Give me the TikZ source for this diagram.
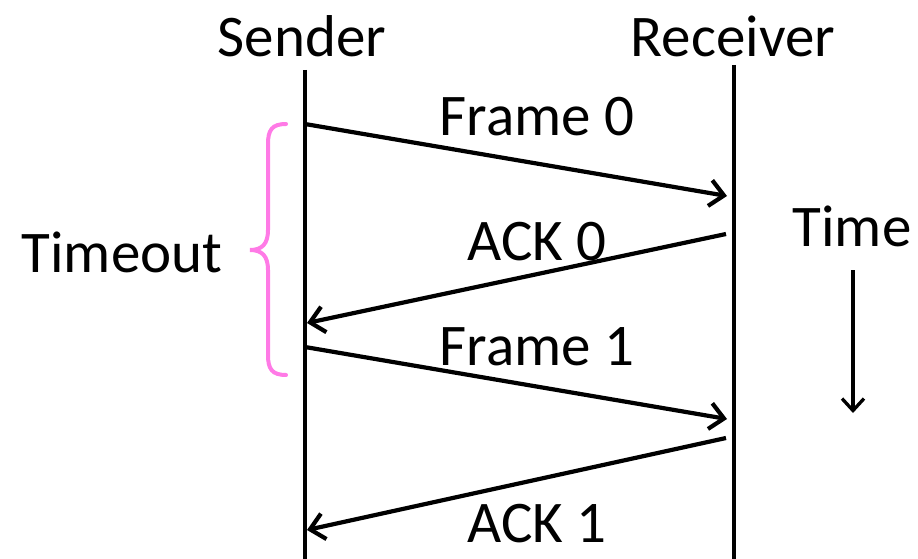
\documentclass[tikz,border=0pt]{standalone}
\usepackage{fontspec}
\setmainfont{Carlito}
\usetikzlibrary{arrows.meta}
\definecolor{bracepink}{RGB}{255,122,230}
\begin{document}
\begin{tikzpicture}[x=1pt,y=-1pt,
  lbl/.style={font=\fontsize{59}{70}\selectfont, inner sep=0pt, anchor=center},
  life/.style={line width=3.3pt},
  msg/.style={line width=4.2pt, -{Straight Barb[length=14pt,width=26pt,line width=4.2pt]}}]
\useasboundingbox (0,0) rectangle (918,559);
% labels
\node[lbl] (sender) at (302,36) {Sender};
\node[lbl] (receiver) at (733,36) {Receiver};
\node[lbl] (f0) at (537,117) {Frame 0};
\node[lbl] (a0) at (537,242) {ACK 0};
\node[lbl] (f1) at (537,347) {Frame 1};
\node[lbl] (a1) at (537,524) {ACK 1};
\node[lbl] (time) at (852,226) {Time};
\node[lbl] (timeout) at (122,252) {Timeout};
% lifelines
\coordinate (st) at (305,70);
\coordinate (sb) at (305,559);
\coordinate (rt) at (734,65);
\coordinate (rb) at (734,559);
\draw[life] (st) -- (sb);
\draw[life] (rt) -- (rb);
% messages
\coordinate (f0s) at (305,124);
\coordinate (f0e) at (727,196);
\coordinate (a0s) at (726,234);
\coordinate (a0e) at (307,323);
\coordinate (f1s) at (305,347);
\coordinate (f1e) at (727,419);
\coordinate (a1s) at (726,438);
\coordinate (a1e) at (307,530);
\draw[msg] (f0s) -- (f0e);
\draw[msg] (a0s) -- (a0e);
\draw[msg] (f1s) -- (f1e);
\draw[msg] (a1s) -- (a1e);
% time arrow
\coordinate (tt) at (853,270);
\coordinate (tb) at (853,413);
\draw[line width=3.3pt, -{Straight Barb[length=12pt,width=22pt,line width=3.3pt]}] (tt) -- (tb);
% brace
\draw[bracepink, line width=4pt, line cap=round]
  (286,124) .. controls (272,124) and (268,130) .. (268,144)
  -- (268,230) .. controls (268,244) and (262,250) .. (250,250)
  .. controls (262,250) and (268,256) .. (268,270)
  -- (268,355) .. controls (268,369) and (272,375) .. (286,375);
\end{tikzpicture}
\end{document}
